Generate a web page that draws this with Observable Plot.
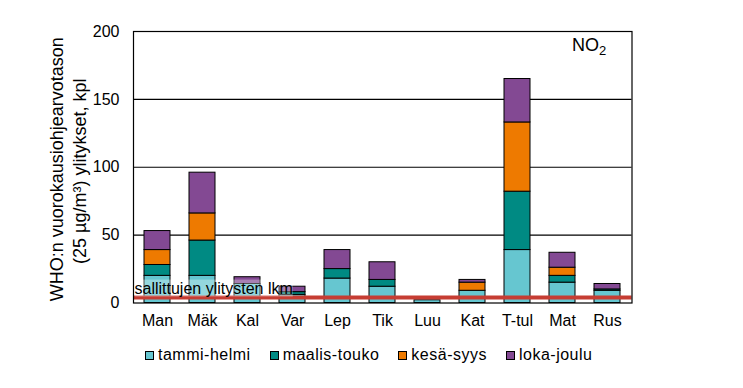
<!DOCTYPE html>
<html><head><meta charset="utf-8">
<script src="https://cdn.jsdelivr.net/npm/d3@7"></script>
<script src="https://cdn.jsdelivr.net/npm/@observablehq/plot@0.6"></script>
<style>
body{margin:0;background:#fff;font-family:"Liberation Sans",Arial,sans-serif;}
#wrap{position:relative;width:743px;height:388px;overflow:hidden;}
#legend{position:absolute;left:145px;top:346px;display:flex;gap:19px;font-size:16px;letter-spacing:0.5px;color:#000;line-height:18px;}
.item{display:flex;align-items:center;gap:4px;}
.sw{width:7px;height:7px;border:1px solid #000;}
</style></head><body><div id="wrap"><div id="legend"></div></div>
<script>
const stations = ["Man","Mäk","Kal","Var","Lep","Tik","Luu","Kat","T-tul","Mat","Rus"];
const seasons = ["tammi-helmi","maalis-touko","kesä-syys","loka-joulu"];
const tammiHelmi  = [20, 20, 14, 6, 18, 12, 2, 9, 39, 15, 9];
const maalisTouko = [ 8, 26,  0, 2,  7,  5, 0, 0, 43,  5, 1];
const kesaSyys    = [11, 20,  0, 0,  0,  0, 0, 6, 51,  6, 0];
const lokaJoulu   = [14, 30,  5, 4, 14, 13, 0, 2, 32, 11, 4];
const seasonColors = ["#66c6d0","#008a83","#ee7a00","#834993"];
const allowed = 4;
const allowedLabel = "sallittujen ylitysten lkm";
const yTicks = [0, 50, 100, 150, 200];
const yGrid = [50, 100, 150];
const yTitle1 = "WHO:n vuorokausiohjearvotason";
const yTitle2 = "(25 µg/m³) ylitykset, kpl";
const pollutant = "NO2";

const seriesValues = [tammiHelmi, maalisTouko, kesaSyys, lokaJoulu];
const table = [];
stations.forEach((s, i) => seasons.forEach((se, j) => table.push({station: s, season: se, value: seriesValues[j][i]})));

const font = "Liberation Sans, Arial, sans-serif";
const chart = Plot.plot({
  width: 743, height: 340,
  marginLeft: 133, marginRight: 111.5, marginTop: 31, marginBottom: 37.5,
  style: {fontFamily: font, fontSize: "16px", color: "#000", background: "#fff", overflow: "visible"},
  x: {domain: stations, paddingInner: 0.43, paddingOuter: 0.215, label: null},
  y: {domain: [0, 200], ticks: yTicks, label: null},
  color: {domain: seasons, range: seasonColors},
  marks: [
    Plot.ruleY(yGrid, {stroke: "#000", strokeWidth: 1.2}),
    Plot.barY(table, {x: "station", y: "value", fill: "season", order: seasons, stroke: "#000", strokeWidth: 1}),
    Plot.ruleY([allowed], {stroke: "#c63d33", strokeWidth: 4}),
    Plot.text([{label: allowedLabel, y: allowed}], {y: "y", text: "label", frameAnchor: "left", textAnchor: "start", lineAnchor: "bottom", dx: 1, dy: -4, fontSize: 16, fill: "#000"}),
    Plot.text([pollutant], {text: d => d, frameAnchor: "top-right", textAnchor: "middle", lineAnchor: "middle", dx: -43, dy: 14, fontSize: 18, fill: "#000"}),
    Plot.axisY({ticks: yTicks, tickSize: 0, tickPadding: 14, fontSize: 16, label: null}),
    Plot.axisX({tickSize: 0, tickPadding: 12, fontSize: 16, label: null}),
    Plot.frame({stroke: "#000", strokeWidth: 1.2}),
    Plot.text([yTitle1], {text: d => d, frameAnchor: "left", rotate: -90, textAnchor: "middle", lineAnchor: "middle", dx: -76, dy: 2, fontSize: 18, fill: "#000"}),
    Plot.text([yTitle2], {text: d => d, frameAnchor: "left", rotate: -90, textAnchor: "middle", lineAnchor: "middle", dx: -53, dy: 4, fontSize: 18, fill: "#000"})
  ]
});
const wrap = document.getElementById("wrap");
wrap.insertBefore(chart, wrap.firstChild);

// subscript for NO2 and translucent box behind the limit label
d3.select(chart).selectAll("text").each(function() {
  if (this.textContent === pollutant) {
    this.textContent = "";
    d3.select(this).append("tspan").text("NO");
    d3.select(this).append("tspan").attr("dy", "0.3em").attr("font-size", "13px").text("2");
  } else if (this.textContent === allowedLabel) {
    const bb = this.getBBox();
    const r = document.createElementNS("http://www.w3.org/2000/svg", "rect");
    r.setAttribute("x", bb.x); r.setAttribute("y", bb.y);
    r.setAttribute("width", bb.width); r.setAttribute("height", bb.height);
    r.setAttribute("fill", "#fff"); r.setAttribute("fill-opacity", "0.3");
    if (this.getAttribute("transform")) r.setAttribute("transform", this.getAttribute("transform"));
    this.parentNode.insertBefore(r, this);
  }
});

const legend = d3.select("#legend");
seasons.forEach((s, i) => {
  const it = legend.append("div").attr("class", "item");
  it.append("div").attr("class", "sw").style("background", seasonColors[i]);
  it.append("span").text(s);
});
</script></body></html>
